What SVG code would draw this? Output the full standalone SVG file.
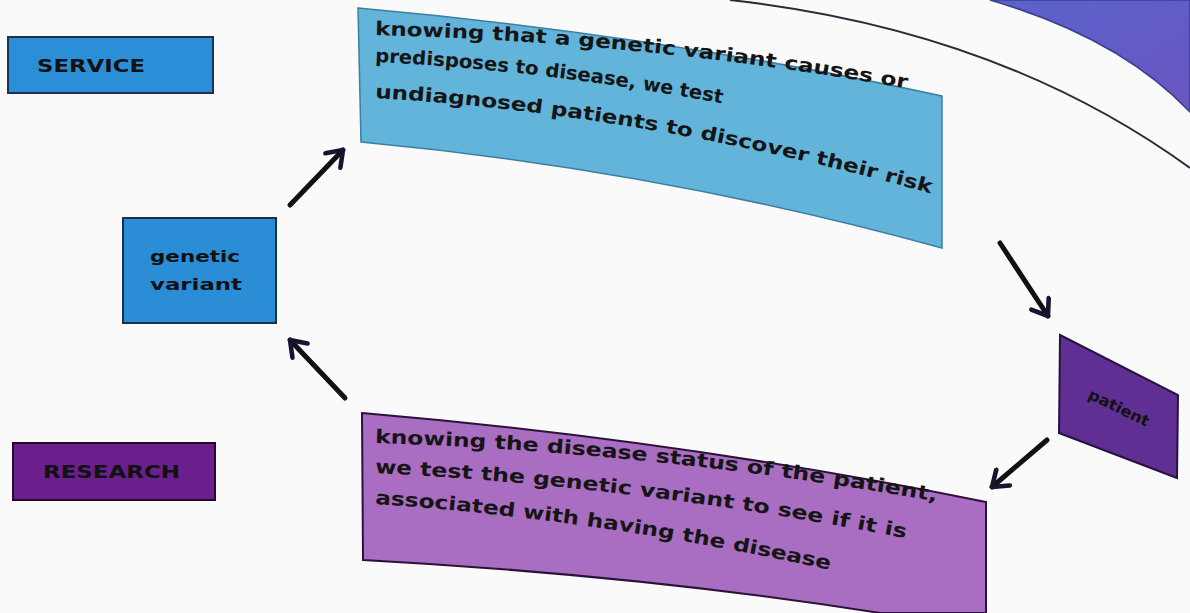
<svg xmlns="http://www.w3.org/2000/svg" width="1190" height="613" viewBox="0 0 1190 613">
  <defs>
    <style>
      .lbl { font-family: "DejaVu Sans", "Liberation Sans", sans-serif; font-weight: bold; fill: #111; }
      .band { font-family: "DejaVu Sans", "Liberation Sans", sans-serif; font-weight: bold; font-size: 19px; fill: #151515; }
      .arrow { fill: none; stroke: #111; stroke-width: 5; stroke-linecap: round; }
    </style>
    <linearGradient id="pageGrad" x1="0" y1="0" x2="1" y2="1">
      <stop offset="0" stop-color="#5a63cc"/>
      <stop offset="1" stop-color="#6a55c0"/>
    </linearGradient>
    <marker id="head" viewBox="0 0 12 12" refX="9" refY="6" markerWidth="5" markerHeight="5" orient="auto" markerUnits="strokeWidth">
      <polyline points="2,1 9,6 2,11" fill="none" stroke="#151530" stroke-width="2.2" stroke-linecap="round" stroke-linejoin="round"/>
    </marker>
    <path id="b1" d="M 375 35 Q 650 42 915 90"/>
    <path id="b2" d="M 375 62 Q 545 70 725 104"/>
    <path id="b3" d="M 375 98 Q 650 114 940 196"/>
    <path id="p1" d="M 375 443 Q 660 452 945 503"/>
    <path id="p2" d="M 375 473 Q 640 486 915 540"/>
    <path id="p3" d="M 375 504 Q 600 519 840 572"/>
  </defs>

  <rect width="1190" height="613" fill="#fafafa"/>

  <!-- page edge decoration -->
  <path d="M 990 0 Q 1120 38 1190 112 L 1190 0 Z" fill="url(#pageGrad)" stroke="#3a3f8a" stroke-width="1.5"/>
  <path d="M 730 0 Q 1000 30 1190 168" fill="none" stroke="#2a2a3a" stroke-width="2"/>

  <g id="service">
    <rect x="8" y="37" width="205" height="56" fill="#2b8fd8" stroke="#1b3350" stroke-width="2"/>
    <text class="lbl" x="37" y="72" font-size="17" textLength="108" lengthAdjust="spacingAndGlyphs">SERVICE</text>
  </g>

  <g id="genetic-variant">
    <rect x="123" y="218" width="153" height="105" fill="#2a8dd6" stroke="#1a2f48" stroke-width="2"/>
    <text class="lbl" x="150" y="262" font-size="16" textLength="90" lengthAdjust="spacingAndGlyphs">genetic</text>
    <text class="lbl" x="150" y="290" font-size="16" textLength="92" lengthAdjust="spacingAndGlyphs">variant</text>
  </g>

  <g id="research">
    <rect x="13" y="443" width="202" height="57" fill="#6a1f8c" stroke="#26082e" stroke-width="2"/>
    <text class="lbl" x="43" y="478" font-size="17" textLength="137" lengthAdjust="spacingAndGlyphs">RESEARCH</text>
  </g>

  <g id="patient">
    <path d="M 1060 335 L 1178 395 L 1177 478 L 1059 433 Z" fill="#5f2f93" stroke="#2a1040" stroke-width="2"/>
    <text class="lbl" x="0" y="0" font-size="15" textLength="66" lengthAdjust="spacingAndGlyphs" transform="translate(1087 398) rotate(26)">patient</text>
  </g>

  <g id="service-step">
    <path d="M 358 8 Q 660 35 942 96 L 942 248 Q 660 170 361 142 Z" fill="#63b4da" stroke="#3b7fa0" stroke-width="1.5"/>
    <text class="band"><textPath href="#b1" startOffset="0" textLength="109.2" lengthAdjust="spacingAndGlyphs">knowing</textPath></text>
    <text class="band"><textPath href="#b1" startOffset="117.2" textLength="54.3" lengthAdjust="spacingAndGlyphs">that</textPath></text>
    <text class="band"><textPath href="#b1" startOffset="179.6" textLength="15.7" lengthAdjust="spacingAndGlyphs">a</textPath></text>
    <text class="band"><textPath href="#b1" startOffset="203.4" textLength="97.4" lengthAdjust="spacingAndGlyphs">genetic</textPath></text>
    <text class="band"><textPath href="#b1" startOffset="308.8" textLength="93.4" lengthAdjust="spacingAndGlyphs">variant</textPath></text>
    <text class="band"><textPath href="#b1" startOffset="410.3" textLength="89.2" lengthAdjust="spacingAndGlyphs">causes</textPath></text>
    <text class="band"><textPath href="#b1" startOffset="507.6" textLength="27.4" lengthAdjust="spacingAndGlyphs">or</textPath></text>

    <text class="band"><textPath href="#b2" startOffset="0" textLength="133.9" lengthAdjust="spacingAndGlyphs">predisposes</textPath></text>
    <text class="band"><textPath href="#b2" startOffset="140.7" textLength="22.9" lengthAdjust="spacingAndGlyphs">to</textPath></text>
    <text class="band"><textPath href="#b2" startOffset="170.4" textLength="91.6" lengthAdjust="spacingAndGlyphs">disease,</textPath></text>
    <text class="band"><textPath href="#b2" startOffset="268.9" textLength="30.5" lengthAdjust="spacingAndGlyphs">we</textPath></text>
    <text class="band"><textPath href="#b2" startOffset="306.1" textLength="43.8" lengthAdjust="spacingAndGlyphs">test</textPath></text>

    <text class="band"><textPath href="#b3" startOffset="0" textLength="168.1" lengthAdjust="spacingAndGlyphs">undiagnosed</textPath></text>
    <text class="band"><textPath href="#b3" startOffset="176.2" textLength="108.2" lengthAdjust="spacingAndGlyphs">patients</textPath></text>
    <text class="band"><textPath href="#b3" startOffset="292.5" textLength="27" lengthAdjust="spacingAndGlyphs">to</textPath></text>
    <text class="band"><textPath href="#b3" startOffset="327.5" textLength="110.1" lengthAdjust="spacingAndGlyphs">discover</textPath></text>
    <text class="band"><textPath href="#b3" startOffset="445.7" textLength="62.6" lengthAdjust="spacingAndGlyphs">their</textPath></text>
    <text class="band"><textPath href="#b3" startOffset="516.4" textLength="48.5" lengthAdjust="spacingAndGlyphs">risk</textPath></text>
  </g>

  <g id="research-step">
    <path d="M 362 413 Q 680 440 986 502 L 986 613 L 880 613 Q 640 575 363 560 Z" fill="#a96dc2" stroke="#2a1238" stroke-width="2"/>
    <text class="band"><textPath href="#p1" startOffset="0" textLength="111.1" lengthAdjust="spacingAndGlyphs">knowing</textPath></text>
    <text class="band"><textPath href="#p1" startOffset="119.4" textLength="44.1" lengthAdjust="spacingAndGlyphs">the</textPath></text>
    <text class="band"><textPath href="#p1" startOffset="171.7" textLength="101" lengthAdjust="spacingAndGlyphs">disease</textPath></text>
    <text class="band"><textPath href="#p1" startOffset="280.9" textLength="83.4" lengthAdjust="spacingAndGlyphs">status</textPath></text>
    <text class="band"><textPath href="#p1" startOffset="372.6" textLength="26.5" lengthAdjust="spacingAndGlyphs">of</textPath></text>
    <text class="band"><textPath href="#p1" startOffset="407.3" textLength="44.1" lengthAdjust="spacingAndGlyphs">the</textPath></text>
    <text class="band"><textPath href="#p1" startOffset="459.6" textLength="105.3" lengthAdjust="spacingAndGlyphs">patient,</textPath></text>

    <text class="band"><textPath href="#p2" startOffset="0" textLength="36.6" lengthAdjust="spacingAndGlyphs">we</textPath></text>
    <text class="band"><textPath href="#p2" startOffset="44.8" textLength="52.6" lengthAdjust="spacingAndGlyphs">test</textPath></text>
    <text class="band"><textPath href="#p2" startOffset="105.7" textLength="44.1" lengthAdjust="spacingAndGlyphs">the</textPath></text>
    <text class="band"><textPath href="#p2" startOffset="158" textLength="99.1" lengthAdjust="spacingAndGlyphs">genetic</textPath></text>
    <text class="band"><textPath href="#p2" startOffset="265.3" textLength="95.1" lengthAdjust="spacingAndGlyphs">variant</textPath></text>
    <text class="band"><textPath href="#p2" startOffset="368.6" textLength="27.5" lengthAdjust="spacingAndGlyphs">to</textPath></text>
    <text class="band"><textPath href="#p2" startOffset="404.4" textLength="46.1" lengthAdjust="spacingAndGlyphs">see</textPath></text>
    <text class="band"><textPath href="#p2" startOffset="458.6" textLength="18.4" lengthAdjust="spacingAndGlyphs">if</textPath></text>
    <text class="band"><textPath href="#p2" startOffset="485.2" textLength="19.4" lengthAdjust="spacingAndGlyphs">it</textPath></text>
    <text class="band"><textPath href="#p2" startOffset="512.8" textLength="22.1" lengthAdjust="spacingAndGlyphs">is</textPath></text>

    <text class="band"><textPath href="#p3" startOffset="0" textLength="140.3" lengthAdjust="spacingAndGlyphs">associated</textPath></text>
    <text class="band"><textPath href="#p3" startOffset="148.3" textLength="55.9" lengthAdjust="spacingAndGlyphs">with</textPath></text>
    <text class="band"><textPath href="#p3" startOffset="212.3" textLength="88.5" lengthAdjust="spacingAndGlyphs">having</textPath></text>
    <text class="band"><textPath href="#p3" startOffset="309" textLength="43.4" lengthAdjust="spacingAndGlyphs">the</textPath></text>
    <text class="band"><textPath href="#p3" startOffset="360.5" textLength="99.5" lengthAdjust="spacingAndGlyphs">disease</textPath></text>
  </g>

  <g id="connectors">
    <line class="arrow" x1="290" y1="205" x2="343" y2="150" marker-end="url(#head)"/>
    <line class="arrow" x1="1000" y1="243" x2="1048" y2="316" marker-end="url(#head)"/>
    <line class="arrow" x1="1047" y1="440" x2="992" y2="487" marker-end="url(#head)"/>
    <line class="arrow" x1="345" y1="398" x2="290" y2="340" marker-end="url(#head)"/>
  </g>
</svg>
